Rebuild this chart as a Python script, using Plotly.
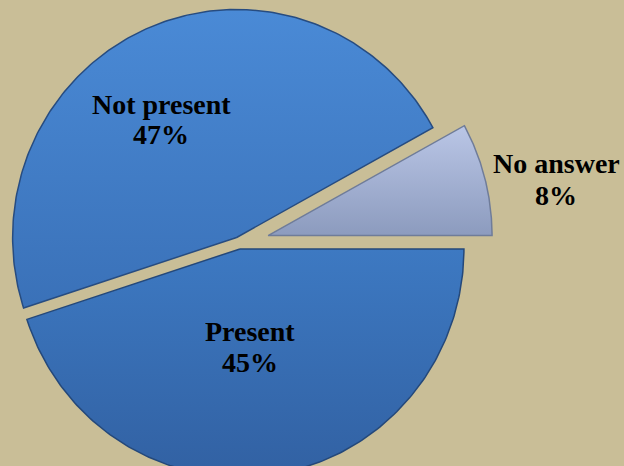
import numpy as np
import plotly.graph_objects as go

# Survey shares (percent)
labels = ["Present", "Not present", "No answer"]
values = [45, 47, 8]

# Slice styling
top_colors = ["#3D79C2", "#4A8AD6", "#BAC6E6"]
bottom_colors = ["#3262A4", "#3A71B8", "#8C9BBE"]
edge_colors = ["#24487A", "#274C80", "#6F7C99"]
pull_px = [6, 6, 30]

W, H = 624, 466
cx, cy = 239, 243          # pie centre in pixel units
rx, ry = 224, 228          # slight vertical stretch
bg = "#C9BE97"

fig = go.Figure()

total = float(sum(values))
angle = 0.0  # start at 3 o'clock, go clockwise
for lab, v, c0, c1, ec, p in zip(labels, values, top_colors, bottom_colors,
                                  edge_colors, pull_px):
    span = 360.0 * v / total
    a0, a1 = angle, angle - span
    mid = np.radians((a0 + a1) / 2)
    ox = cx + p * np.cos(mid)
    oy = cy - p * np.sin(mid)
    t = np.radians(np.linspace(a0, a1, 200))
    xs = np.concatenate([[ox], ox + rx * np.cos(t), [ox]])
    ys = np.concatenate([[oy], oy - ry * np.sin(t), [oy]])
    fig.add_trace(go.Scatter(
        x=xs, y=ys, mode="lines", fill="toself",
        line=dict(color=ec, width=1.5),
        fillgradient=dict(type="vertical",
                          colorscale=[[0, c0], [1, c1]],
                          start=float(ys.min()), stop=float(min(ys.max(), H))),
        hoverinfo="skip", showlegend=False, name=lab,
    ))
    angle = a1

font = dict(family="Liberation Serif", size=28, color="black")
# label name / percentage positions
label_pos = {
    "Present": ((250, 331), (250, 362)),
    "Not present": ((161, 104), (161, 134)),
    "No answer": ((556, 163), (556, 195)),
}
for lab, v in zip(labels, values):
    (x1, y1), (x2, y2) = label_pos[lab]
    fig.add_annotation(x=x1, y=y1, text=f"<b>{lab}</b>", showarrow=False,
                       font=font, xanchor="center", yanchor="middle")
    fig.add_annotation(x=x2, y=y2, text=f"<b>{round(100 * v / total)}%</b>",
                       showarrow=False, font=font, xanchor="center",
                       yanchor="middle")

fig.update_xaxes(range=[0, W], visible=False, fixedrange=True)
fig.update_yaxes(range=[H, 0], visible=False, fixedrange=True)
fig.update_layout(
    width=W, height=H, margin=dict(l=0, r=0, t=0, b=0),
    paper_bgcolor=bg, plot_bgcolor=bg,
)

fig.write_html("out.html")
